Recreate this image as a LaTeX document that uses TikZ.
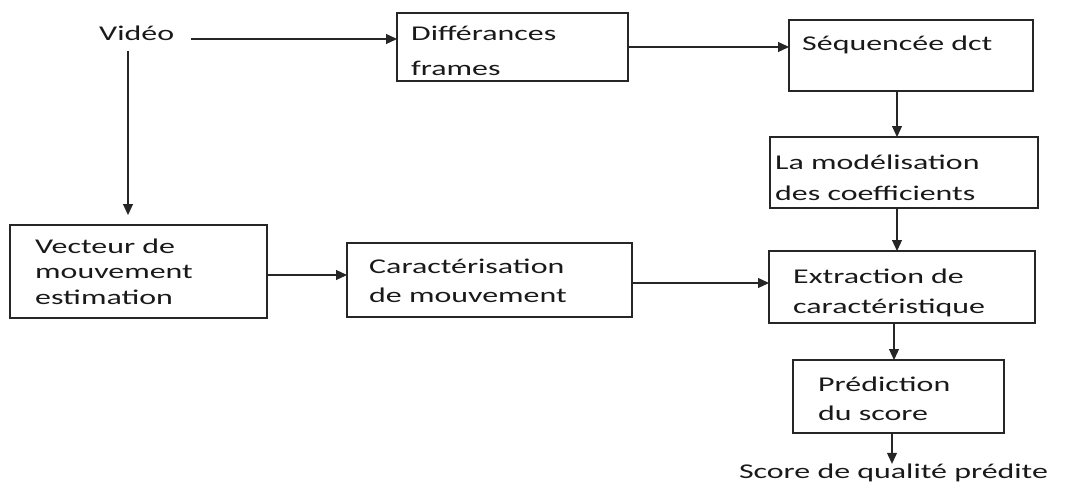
\documentclass[tikz,border=0pt]{standalone}
\usepackage{fontspec}
\setmainfont[FakeStretch=1.52]{Carlito}
\usetikzlibrary{calc,arrows.meta}
\begin{document}
\begin{tikzpicture}[x=1pt,y=-1pt,
  box/.style={draw=black!85, line width=1.3pt, inner sep=0pt, outer sep=0pt},
  txt/.style={inner sep=0pt, anchor=west, align=left, text=black!90,
    font=\fontsize{21}{#1}\selectfont},
  txt/.default=26,
  arr/.style={draw=black!85, line width=1.1pt,
    -{Triangle[length=11pt,width=10pt]}}
]
\useasboundingbox (0,0) rectangle (1067,487);

% process boxes
\node[box, minimum width=231pt, minimum height=68pt] (D) at (512.5,47) {};
\node[box, minimum width=244pt, minimum height=71pt] (S) at (911,55.5) {};
\node[box, minimum width=268pt, minimum height=71pt] (M) at (904,172.5) {};
\node[box, minimum width=266pt, minimum height=72pt] (E) at (902,287) {};
\node[box, minimum width=211pt, minimum height=73pt] (P) at (898.5,396.5) {};
\node[box, minimum width=257pt, minimum height=93pt] (V) at (138.5,271.5) {};
\node[box, minimum width=285pt, minimum height=74pt] (C) at (489.5,280) {};

% labels
\node[txt] (vid) at (99,33) {Vidéo};
\node[txt=35] (Dt) at (411,50.5) {Différances\\frames};
\node[txt] (St) at (802,45) {Séquencée dct};
\node[txt=31] (Mt) at (775,177.5) {La modélisation\\des coefficients};
\node[txt=30] (Et) at (793,293) {Extraction de\\caractéristique};
\node[txt=29] (Pt) at (818,398.5) {Prédiction\\du score};
\node[txt=25.5] (Vt) at (35,271.5) {Vecteur de\\mouvement\\estimation};
\node[txt=29] (Ct) at (369,280.5) {Caractérisation\\de mouvement};
\node[txt, anchor=center] (score) at (893.5,473) {Score de qualité prédite};

% connectors
\draw[arr] ($(vid.east)+(17,6)$) -- ($(vid.east -| D.west)+(0,6)$);
\draw[arr] ($(vid.south west)+(29,10)$) -- ($(vid.south west |- V.north)+(29,-10)$);
\draw[arr] (D.east) -- (D.east -| S.west);
\draw[arr] ($(S.south)+(-14,0)$) -- ($(S.south |- M.north)+(-14,0)$);
\draw[arr] ($(M.south)+(-7,0)$) -- ($(M.south |- E.north)+(-7,0)$);
\draw[arr] ($(E.south)+(-8,0)$) -- ($(E.south |- P.north)+(-8,0)$);
\draw[arr] ($(P.south -| score.north)+(-1.5,0)$) -- ($(score.north)+(-1.5,0)$);
\draw[arr] ($(V.east)+(0,3.5)$) -- ($(V.east -| C.west)+(0,3.5)$);
\draw[arr] ($(C.east)+(0,3)$) -- ($(C.east -| E.west)+(0,3)$);
\end{tikzpicture}
\end{document}
